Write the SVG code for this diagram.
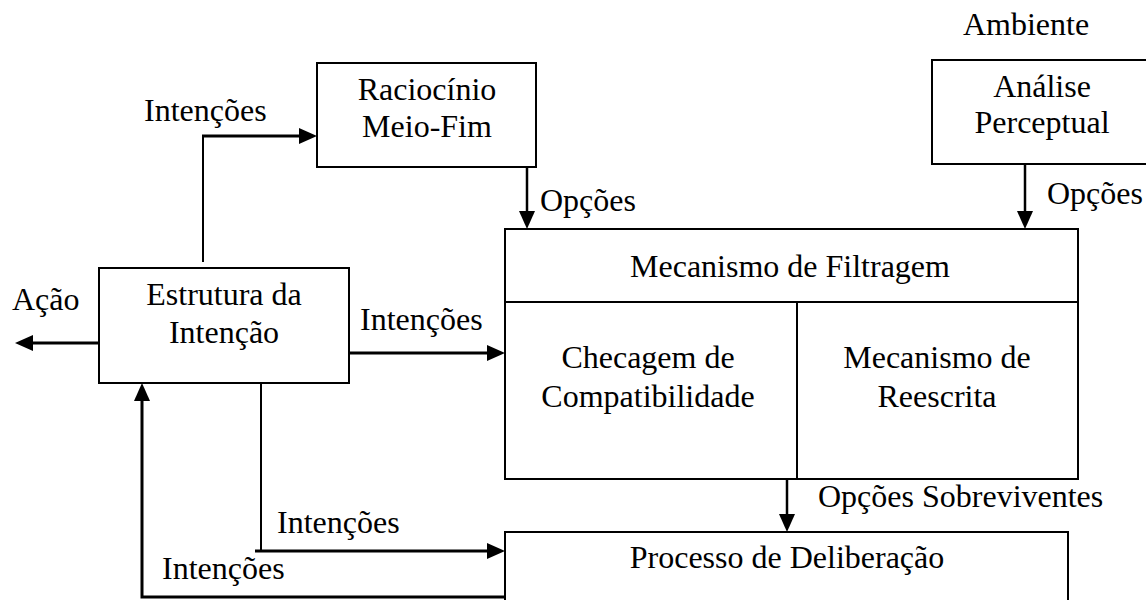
<svg xmlns="http://www.w3.org/2000/svg" width="1146" height="600" viewBox="0 0 1146 600">
<style>
text{font-family:"Liberation Serif","Times New Roman",serif;font-size:32px;fill:#000}
.c{text-anchor:middle}
.box{fill:#fff;stroke:#000;stroke-width:2}
.ln{fill:none;stroke:#000;stroke-width:2}
.ar{fill:none;stroke:#000;stroke-width:3;marker-end:url(#ah)}
.ar2{fill:none;stroke:#000;stroke-width:2.5;marker-end:url(#ah)}
</style>
<defs>
<marker id="ah" markerUnits="userSpaceOnUse" viewBox="0 0 18 16" refX="8" refY="8" markerWidth="18" markerHeight="16" orient="auto">
<path d="M0,0 L18,8 L0,16 z" fill="#000"/>
</marker>
</defs>
<rect width="1146" height="600" fill="#fff"/>
<g id="connectors">
<path class="ln" d="M203,262 V136"/>
<path class="ar" d="M202,136 H307"/>
<path class="ar2" d="M527,167 V219"/>
<path class="ar2" d="M1025,164 V219"/>
<path class="ar" d="M349,353 H495"/>
<path class="ar" d="M99,343 H25"/>
<path class="ar2" d="M787,479 V522"/>
<path class="ln" d="M261,383 V551"/>
<path class="ar" d="M255,551 H495"/>
<path class="ar" d="M505,597 H142 V393"/>
</g>
<g id="raciocinio">
<rect class="box" x="317" y="63" width="219" height="104"/>
<text class="c" x="427" y="100">Raciocínio</text>
<text class="c" x="427" y="137">Meio-Fim</text>
</g>
<g id="ambiente">
<text class="c" x="1026" y="35">Ambiente</text>
</g>
<g id="analise">
<rect class="box" x="932" y="60" width="222" height="104"/>
<text class="c" x="1042" y="97">Análise</text>
<text class="c" x="1042" y="133">Perceptual</text>
</g>
<g id="filtragem">
<rect class="box" x="505" y="229" width="573" height="250"/>
<line class="ln" x1="505" y1="302" x2="1078" y2="302"/>
<line class="ln" x1="797" y1="302" x2="797" y2="479"/>
<text class="c" x="790" y="277">Mecanismo de Filtragem</text>
<text class="c" x="648" y="368">Checagem de</text>
<text class="c" x="648" y="407">Compatibilidade</text>
<text class="c" x="937" y="368">Mecanismo de</text>
<text class="c" x="937" y="407">Reescrita</text>
</g>
<g id="estrutura">
<rect class="box" x="99" y="268" width="250" height="115"/>
<text class="c" x="224" y="305">Estrutura da</text>
<text class="c" x="224" y="343">Intenção</text>
</g>
<g id="deliberacao">
<rect class="box" x="505" y="532" width="563" height="100"/>
<text class="c" x="787" y="568">Processo de Deliberação</text>
</g>
<g id="labels">
<text x="144" y="121">Intenções</text>
<text x="540" y="211">Opções</text>
<text x="1047" y="204">Opções</text>
<text x="12" y="310">Ação</text>
<text x="360" y="330">Intenções</text>
<text x="818" y="507">Opções Sobreviventes</text>
<text x="277" y="533">Intenções</text>
<text x="162" y="579">Intenções</text>
</g>
</svg>
